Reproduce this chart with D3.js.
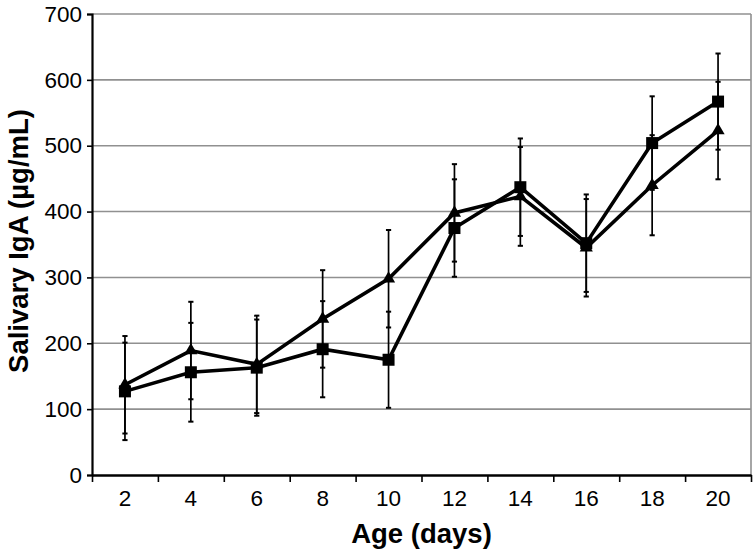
<!DOCTYPE html>
<html>
<head>
<meta charset="utf-8">
<script src="https://cdn.jsdelivr.net/npm/d3@7"></script>
<style>
  html, body { margin: 0; padding: 0; background: #fff; }
  svg { display: block; }
</style>
</head>
<body>
<svg id="chart" width="755" height="555"></svg>
<script>
const days = [2, 4, 6, 8, 10, 12, 14, 16, 18, 20];
const triangleValues = [137, 189, 168, 237, 298, 398, 423, 345, 440, 523];
const triangleErrors = [74, 74, 74, 74, 74, 74, 75, 74, 76, 74];
const squareValues = [127, 156, 163, 191, 175, 375, 437, 352, 504, 567];
const squareErrors = [74, 75, 73, 73, 73, 74, 74, 74, 71, 73];
const yTicks = [0, 100, 200, 300, 400, 500, 600, 700];

(function () {
const svg = d3.select("#chart");
const mLeft = 92, mRight = 751, mTop = 14, mBottom = 475;
const font = "'Liberation Sans', Arial, Helvetica, sans-serif";

const x = d3.scaleBand().domain(days).range([mLeft, mRight]).padding(0);
const xEdge = d3.scaleLinear().domain([0, days.length]).range([mLeft, mRight]);
const y = d3.scaleLinear().domain([0, 700]).range([mBottom, mTop]);

// gridlines
svg.append("g").selectAll("line").data(yTicks.filter(d => d > 0)).join("line")
  .attr("x1", mLeft).attr("x2", mRight)
  .attr("y1", d => y(d)).attr("y2", d => y(d))
  .attr("stroke", "#909090").attr("stroke-width", 1.6);
// right border
svg.append("line").attr("x1", mRight).attr("x2", mRight).attr("y1", mTop).attr("y2", mBottom)
  .attr("stroke", "#909090").attr("stroke-width", 1.6);

// y axis
const yAxis = svg.append("g").attr("transform", `translate(${mLeft},0)`)
  .call(d3.axisLeft(y).tickValues(yTicks).tickSize(5).tickPadding(5));
yAxis.select(".domain").attr("stroke", "#000").attr("stroke-width", 2.2);
yAxis.selectAll(".tick line").attr("stroke", "#000").attr("stroke-width", 1.6);
yAxis.selectAll(".tick text").attr("font-family", font).attr("font-size", 22.5).attr("fill", "#000");

// x axis: edge ticks
const xEdgeAxis = svg.append("g").attr("transform", `translate(0,${mBottom})`)
  .call(d3.axisBottom(xEdge).tickValues(d3.range(days.length + 1)).tickFormat("").tickSize(7).tickSizeOuter(0));
xEdgeAxis.select(".domain").attr("stroke", "#000").attr("stroke-width", 2.6);
xEdgeAxis.selectAll(".tick line").attr("stroke", "#000").attr("stroke-width", 1.6);
// x axis labels
const xAxis = svg.append("g").attr("transform", `translate(0,${mBottom})`)
  .call(d3.axisBottom(x).tickSize(0).tickPadding(15));
xAxis.select(".domain").remove();
xAxis.selectAll(".tick text").attr("font-family", font).attr("font-size", 22.5).attr("fill", "#000");

// axis titles
svg.append("text").attr("x", (mLeft + mRight) / 2).attr("y", 543)
  .attr("text-anchor", "middle").attr("font-family", font).attr("font-weight", "bold")
  .attr("font-size", 27.5).text("Age (days)");
svg.append("text").attr("transform", "translate(28,241) rotate(-90)")
  .attr("text-anchor", "middle").attr("font-family", font).attr("font-weight", "bold")
  .attr("font-size", 27.5).text("Salivary IgA (µg/mL)");

const cx = d => x(d) + x.bandwidth() / 2;

function errorBars(vals, errs) {
  const g = svg.append("g").attr("stroke", "#000");
  days.forEach((d, i) => {
    const hi = y(vals[i] + errs[i]), lo = y(vals[i] - errs[i]);
    g.append("line").attr("x1", cx(d)).attr("x2", cx(d)).attr("y1", hi).attr("y2", lo).attr("stroke-width", 1.7);
    g.append("line").attr("x1", cx(d) - 2.6).attr("x2", cx(d) + 2.6).attr("y1", hi).attr("y2", hi).attr("stroke-width", 2);
    g.append("line").attr("x1", cx(d) - 2.6).attr("x2", cx(d) + 2.6).attr("y1", lo).attr("y2", lo).attr("stroke-width", 2);
  });
}
errorBars(triangleValues, triangleErrors);
errorBars(squareValues, squareErrors);

const line = d3.line().x((v, i) => cx(days[i])).y(v => y(v));
svg.append("path").datum(triangleValues).attr("d", line)
  .attr("fill", "none").attr("stroke", "#000").attr("stroke-width", 3.6).attr("stroke-linejoin", "miter");
svg.append("path").datum(squareValues).attr("d", line)
  .attr("fill", "none").attr("stroke", "#000").attr("stroke-width", 3.6).attr("stroke-linejoin", "miter");

// markers
svg.append("g").selectAll("path").data(triangleValues).join("path")
  .attr("d", d3.symbol().type(d3.symbolTriangle).size(75))
  .attr("transform", (v, i) => `translate(${cx(days[i])},${y(v)})`)
  .attr("fill", "#000");
svg.append("g").selectAll("rect").data(squareValues).join("rect")
  .attr("x", (v, i) => cx(days[i]) - 6).attr("y", v => y(v) - 6)
  .attr("width", 12).attr("height", 12).attr("fill", "#000");
})();
</script>
</body>
</html>
